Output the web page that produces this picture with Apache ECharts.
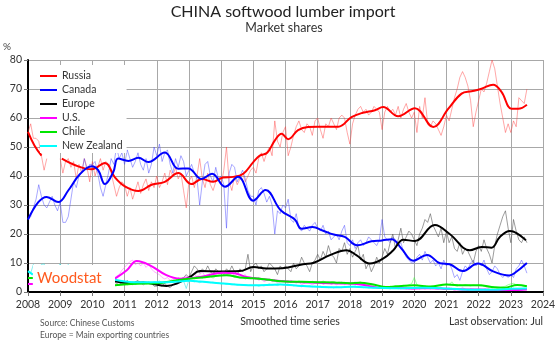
<!DOCTYPE html>
<html><head><meta charset="utf-8">
<script src="https://cdn.jsdelivr.net/npm/echarts@6/dist/echarts.min.js"></script>
<style>html,body{margin:0;padding:0;background:#fff}#c{width:560px;height:345px}</style>
</head><body><div id="c"></div>
<script>
const START_YEAR = 2008;
const X_MIN = 2008, X_MAX = 2024, Y_MIN = 0, Y_MAX = 80;
const seriesNames = ['Russia', 'Canada', 'Europe', 'U.S.', 'Chile', 'New Zealand'];

// Raw monthly market shares (%), Jan 2008 .. Jul 2023
const russiaRaw = [
 55,58,53,53,52,47,42,46,null,null,null,null,
 46,41,45,46,43,45,39,44,41,46,43,38,
 45,40,43,46,42,45,44,41,37,33,36,38,
 37,33,36,32,35,38,34,37,39,35,38,36,
 40,36,38,41,37,42,40,43,39,41,35,29,
 38,40,36,40,46,39,36,41,37,35,38,39,
 37,42,50,38,35,40,37,39,41,38,40,42,
 43,41,46,48,45,48,50,47,59,52,50,55,
 57,47,50,54,57,59,56,55,58,57,54,59,
 60,56,53,58,57,60,58,56,60,61,60,55,
 51,58,61,63,64,62,63,61,62,64,63,62,
 56,62,64,62,63,61,64,60,63,65,62,60,
 62,55,64,60,67,58,57,59,58,56,54,57,
 61,59,63,67,70,74,76,74,71,66,57,62,
 66,70,69,72,76,80,77,71,65,60,55,58,
 55,59,57,67,66,65,70];
const canadaRaw = [
 25,26,29,32,37,33,30,29,31,33,30,28,
 31,24,24,26,32,38,36,40,41,46,42,44,
 44,45,41,36,33,37,41,46,44,50,46,48,
 44,49,46,43,45,48,44,42,46,41,44,50,
 47,51,45,48,49,44,41,46,43,47,45,40,
 42,44,41,39,30,38,44,45,40,38,43,39,
 40,37,22,41,44,43,38,40,42,39,35,33,
 33,30,35,36,34,31,33,30,20,28,27,30,
 29,32,25,24,27,22,21,23,22,21,23,24,
 22,21,23,20,21,18,19,20,18,21,23,17,
 16,18,15,17,18,16,17,19,18,17,16,18,
 25,19,18,17,19,18,16,17,14,12,11,10,
 10,12,13,11,14,12,10,11,9,10,8,11,
 9,10,8,5,6,4,7,9,8,10,11,9,
 10,9,11,8,6,7,9,8,6,5,6,5,
 6,5,8,9,11,9,6.5];
const europeRaw = [
 null,null,null,null,null,null,null,null,null,null,null,null,
 null,null,null,null,null,null,null,null,null,null,null,null,
 null,null,null,null,null,null,null,null,3.5,3,2.5,3.5,
 3,4,3,2.5,3.5,4,3,2.5,3,3.5,3,2,
 2,2.5,2,3,2,1.5,2.5,3,4,4.5,5,6,
 5,7,9,8,6.5,8,7,9,7,6,8,7,
 7,6,8,7,9,7,6,8,7,8,13,7,
 9,10,8,9,7,8,10,9,8,6,9,8,
 9,8,7,10,8,9,12,10,9,7,10,11,
 13,11,14,12,16,13,12,10,15,14,17,13,
 15,12,14,16,11,13,8,10,7,9,12,10,
 12,15,13,17,20,15,18,22,17,19,21,20,
 18,16,20,22,25,24,27,23,21,19,22,17,
 21,17,19,15,14,17,13,15,14,12,10,14,
 16,14,18,15,13,10,16,20,23,26,28,22,
 17,25,21,18,17,19,17];
const usRaw = [
 2.8,2.7,null,null,null,null,null,null,null,null,null,null,
 null,null,null,null,null,null,null,null,null,null,null,null,
 null,null,null,null,null,null,null,null,4.5,5.5,6,7.5,
 8.5,9.5,10.5,11,9.5,10,9,10,8.5,9.5,8,7,
 6.5,6,5,4.5,5,4,4.5,4,5,4.5,5,5.5,
 5,5.5,6.5,5,6,7,5.5,6,6.5,7,6,5.5,
 6.5,7,6,6.5,7,5.5,6,5,5.5,6,4.5,5,
 4.5,5,4,4.5,3.5,4,4.5,3.5,4,3,3.5,4,
 3.5,3,4,3.5,3,3.5,2.5,3,3.5,3,2.5,3,
 3,3.5,2.5,3,3.5,2.5,3,2.5,3,3.5,2.5,3,
 2.5,3,3.5,2.5,3,2.5,2,2.5,3,2,1.5,2,
 1.5,2,1.5,1,1.5,2,1.5,1,1.5,1,1.5,1,
 1,1.5,1,1.5,1,1.5,1,1.5,1,1,1.5,1,
 1,1.5,1,0.5,1,1,1.5,1,0.5,1,1,0.5,
 1,0.5,1,1.5,1,0.5,1,0.5,0.5,1,0.5,0.5,
 0.5,1,0.5,1,0.5,1,1];
const chileRaw = [
 4.8,5,null,null,null,null,null,null,null,null,null,null,
 null,null,null,null,null,null,null,null,null,null,null,null,
 null,null,null,null,null,null,null,null,2,2.5,2.3,2.8,
 3,2.5,2.8,3.2,2.6,3,2.8,3.1,2.7,3,2.9,3.2,
 3,3.3,2.8,3.5,3.2,3.8,3.5,4,4.2,3.8,4.5,4.2,
 4.8,5,4.5,5.5,5.2,4.8,5.5,5,5.3,4.8,5.5,5.8,
 5.5,6,5.8,6.2,5.5,5,5.3,4.8,5,4.5,4.8,5,
 4.8,4.5,5,4.2,4.5,4,4.3,3.8,4.2,3.5,4,3.8,
 3.5,3.8,3.2,3.6,3.4,3.8,3.5,3.2,3.6,3.3,3.7,3.4,
 3.5,3.2,3.8,3.4,3,3.5,3.6,3.2,3.4,3,3.3,3.1,
 3,3.3,2.8,3.2,3.5,3,2.8,2.5,2.2,2,1.8,1.5,
 1.6,1.8,1.5,2,1.8,2.2,2,1.8,2.3,2.1,2.5,2.8,
 5,2.5,2,1.8,2.2,2,1.6,1.8,2,2.3,2.1,2.5,
 2.8,2.5,3.5,2.3,2,2.5,2.2,2.6,2.3,2.1,2.4,2.2,
 2.3,2.5,2,1.8,1.5,1.3,1.5,1.2,1.5,1.8,2,2.5,
 2.8,3,2.5,2.3,2.2,2,1.8];
const nzRaw = [
 7,6.5,9.5,7,8,9.5,9.7,7,8,7.5,8,8.5,
 9.7,8,7,9.5,8,7,6,7,8,6,7,6.5,
 6,5,5.5,4.5,5,4,4.5,4,3.8,4,3.6,3.3,
 3.2,3.5,3,3.4,2.8,3.2,3,3.5,2.9,3.3,3.1,3.6,
 3.4,3.8,3.2,3.5,3.3,3.6,3.2,3.9,3.5,4.2,3.8,1.2,
 4.2,3.8,3.5,3.8,3.2,3.6,3.3,3.5,3.2,3.4,3,3.1,
 2.8,3,2.6,2.9,2.5,2.7,2.4,2.6,2.3,2.5,2.2,2.4,
 2.2,2.4,2,2.3,2.1,2.5,2.8,2.4,2.6,2.2,2.7,2.5,
 2.4,2.2,2.6,2.1,2.3,2,1.8,2.1,1.9,2.2,1.8,2,
 1.8,2,1.6,1.9,1.5,1.7,1.4,1.8,1.6,1.5,1.7,1.9,
 2,1.8,2.1,1.6,1.9,1.5,1.7,1.4,1.6,1.3,1.5,1.4,
 1.4,1.6,1.3,1.5,1.2,1.4,1.1,1.3,1.2,1.4,1.1,1.3,
 1.2,1.5,1.3,1.6,1.4,1.8,1.5,1.3,1.6,1.2,1.4,1.1,
 1.2,1,1.3,0.9,1.1,0.8,1,0.9,0.7,1,0.8,0.9,
 0.8,0.7,0.9,0.6,0.8,0.7,0.9,0.8,1,0.9,1.1,1,
 1.1,1.3,1,1.2,1.1,1.3,1.2];

// Smoothed series: [year, share %], null = gap
const russiaSmooth = [[2008.0,55.2],[2008.2,50.5],[2008.42,47],[2008.7,null],[2009.05,46],[2009.56,43.3],[2009.98,42.3],[2010.39,44.5],[2010.7,39.5],[2011.01,36.4],[2011.43,34.8],[2011.84,37],[2012.25,38],[2012.67,41],[2013.08,37.2],[2013.4,39],[2013.75,38],[2014.06,39.5],[2014.38,39.7],[2014.69,40.8],[2015.0,44.8],[2015.2,47],[2015.43,48],[2015.67,52.3],[2015.88,54.6],[2016.08,52.7],[2016.39,55.8],[2016.7,56.9],[2017.0,57],[2017.64,57],[2018.05,60.3],[2018.4,61.8],[2018.78,62.7],[2019.03,63.8],[2019.5,60.6],[2020.02,63.4],[2020.59,56.9],[2021.06,63.2],[2021.47,68.4],[2021.78,69.2],[2022.09,70.1],[2022.45,71.5],[2022.71,69],[2023.02,63.2],[2023.23,63.2],[2023.5,64.6]];
const canadaSmooth = [[2008.0,25],[2008.32,31],[2008.58,32.8],[2008.94,31],[2009.25,35],[2009.61,40.6],[2009.98,43.4],[2010.18,42],[2010.39,37.2],[2010.65,41.4],[2010.8,46],[2011.12,45.2],[2011.43,46.3],[2011.74,44.8],[2012.25,48.1],[2012.67,42.5],[2012.98,42.6],[2013.39,39],[2013.72,40.8],[2014.12,36.3],[2014.53,39.7],[2015.0,31.5],[2015.38,35.2],[2015.85,28.2],[2016.29,25],[2016.5,21.8],[2016.84,22.4],[2017.15,21.2],[2017.5,19.8],[2017.84,19],[2018.23,16.1],[2018.67,17.5],[2019.0,17.8],[2019.3,18.2],[2019.6,15],[2019.97,10.8],[2020.4,12.8],[2020.8,9.9],[2021.1,9.6],[2021.5,7.2],[2021.98,9.8],[2022.45,7.1],[2022.95,5.7],[2023.15,6.8],[2023.5,10]];
const europeSmooth = [[2010.7,3.7],[2011.07,3.1],[2011.58,3.3],[2012.3,2.1],[2012.62,2.9],[2013.03,5.2],[2013.34,7.2],[2013.96,7.1],[2014.58,7.2],[2015.0,8.6],[2015.41,8.1],[2015.9,8.2],[2016.55,9.6],[2016.86,10],[2017.38,12.7],[2017.9,14.4],[2018.2,12.7],[2018.62,9.8],[2019.03,11.5],[2019.35,14.4],[2019.66,18],[2020.02,17.6],[2020.64,23.1],[2021.1,20],[2021.73,14.4],[2022.09,15.5],[2022.4,15.3],[2022.66,19],[2022.97,21],[2023.47,17.8]];
const usSmooth = [[2008.0,2.8],[2008.15,2.8],[2008.5,null],[2010.7,4.6],[2011.07,7.5],[2011.38,10.7],[2011.79,9.2],[2012.3,5.8],[2012.72,4.6],[2013.34,5.2],[2014.06,6.6],[2014.4,6.5],[2014.79,5.2],[2015.41,4.3],[2015.83,3.8],[2016.5,3.4],[2017.0,3.2],[2017.5,3],[2018.0,2.9],[2018.4,2.5],[2018.9,1.5],[2019.5,1.4],[2020.0,1.2],[2020.5,1.3],[2021.0,1.1],[2021.5,0.9],[2022.0,0.9],[2022.5,0.7],[2023.0,0.7],[2023.5,0.9]];
const chileSmooth = [[2008.0,4.8],[2008.15,4.8],[2008.5,null],[2010.7,2.3],[2011.2,2.8],[2012.0,3],[2012.5,3.8],[2013.0,4.6],[2013.5,5.1],[2014.17,5.8],[2014.58,5],[2015.0,4.7],[2015.4,4.3],[2016.0,3.6],[2016.5,3.5],[2017.0,3.4],[2017.5,3.3],[2018.0,3],[2018.3,3.2],[2018.8,2.4],[2019.1,1.7],[2019.6,2.1],[2020.0,2.3],[2020.5,1.9],[2021.0,2.6],[2021.5,2.3],[2022.0,2.3],[2022.5,1.6],[2022.8,1.5],[2023.2,2.4],[2023.5,2]];
const nzSmooth = [[2008.0,7.2],[2008.15,6],[2008.5,null],[2010.7,4.2],[2011.27,3.4],[2012.3,3.4],[2013.03,3.9],[2013.34,3.6],[2014.06,2.9],[2015.0,2.3],[2015.83,2.6],[2016.5,2.1],[2017.0,1.8],[2017.6,1.6],[2018.1,1.8],[2018.7,1.5],[2019.5,1.3],[2020.3,1.5],[2020.8,1.3],[2021.5,0.9],[2022.0,0.8],[2022.6,0.8],[2023.0,1.1],[2023.5,1.2]];

const smoothColors = ['#ff0000', '#0000ff', '#000000', '#ff00ff', '#00e600', '#00ffff'];
const rawColors = ['rgba(255,60,60,0.45)', 'rgba(60,60,255,0.45)', 'rgba(90,90,90,0.6)', 'rgba(255,80,255,0.45)', 'rgba(60,255,60,0.5)', 'rgba(60,230,230,0.6)'];
const raws = [russiaRaw, canadaRaw, europeRaw, usRaw, chileRaw, nzRaw];
const smooths = [russiaSmooth, canadaSmooth, europeSmooth, usSmooth, chileSmooth, nzSmooth];

function monthly(arr) { return arr.map((v, i) => [START_YEAR + i / 12, v]); }

const FONT = 'Lato';
const series = [];
raws.forEach((r, k) => series.push({
  name: seriesNames[k] + ' raw', type: 'line', data: monthly(r), showSymbol: false, silent: true,
  connectNulls: false, lineStyle: { width: 1, color: rawColors[k] }, itemStyle: { color: rawColors[k] }, z: 2
}));
smooths.forEach((s, k) => series.push({
  name: seriesNames[k], type: 'line', data: s, showSymbol: false, silent: true, smooth: 0.4,
  connectNulls: false, lineStyle: { width: 2, color: smoothColors[k] }, itemStyle: { color: smoothColors[k] }, z: 3
}));

const chart = echarts.init(document.getElementById('c'), null, { renderer: 'canvas' });
chart.setOption({
  animation: false,
  backgroundColor: '#fff',
  grid: { left: 28, right: 17, top: 60, bottom: 53, containLabel: false },
  xAxis: {
    type: 'value', min: X_MIN, max: X_MAX, interval: 1,
    axisLine: { lineStyle: { color: '#000', width: 2 } },
    axisTick: { show: true, length: 4, lineStyle: { color: '#777' } },
    axisLabel: { fontFamily: FONT, fontSize: 10.5, color: '#333', margin: 7, formatter: v => String(v) },
    splitLine: { show: true, lineStyle: { color: '#a8a8a8', width: 1 } }
  },
  yAxis: {
    type: 'value', min: Y_MIN, max: Y_MAX, interval: 10,
    axisLine: { show: true, lineStyle: { color: '#000', width: 2 } },
    axisTick: { show: true, length: 4, lineStyle: { color: '#777' } },
    axisLabel: { fontFamily: FONT, fontSize: 10.5, color: '#333', margin: 6 },
    splitLine: { show: true, lineStyle: { color: '#a8a8a8', width: 1 } }
  },
  legend: {
    data: seriesNames, orient: 'vertical', left: 40, top: 65, padding: [4, 4, 0, 0],
    itemWidth: 17, itemHeight: 2, itemGap: 0, icon: 'rect', selectedMode: false,
    backgroundColor: '#fff',
    textStyle: { fontFamily: FONT, fontSize: 10.5, color: '#333', lineHeight: 14 }
  },
  graphic: [
    { type: 'text', x: 283, y: 12, z: 100, style: { text: 'CHINA softwood lumber import', fontFamily: FONT, fontSize: 16, fill: '#222', align: 'center', verticalAlign: 'middle' } },
    { type: 'text', x: 284, y: 28, z: 100, style: { text: 'Market shares', fontFamily: FONT, fontSize: 12.5, fill: '#333', align: 'center', verticalAlign: 'middle' } },
    { type: 'text', x: 3, y: 47, z: 100, style: { text: '%', fontFamily: FONT, fontSize: 10, fill: '#444', verticalAlign: 'middle' } },
    { type: 'rect', z: 100, shape: { x: 33, y: 265, width: 82, height: 25 }, style: { fill: '#fff' } },
    { type: 'text', x: 37, y: 278, z: 101, style: { text: 'Woodstat', fontFamily: FONT, fontSize: 15, fill: '#ff5a1e', verticalAlign: 'middle' } },
    { type: 'text', x: 40, y: 323, z: 100, style: { text: 'Source: Chinese Customs', fontFamily: FONT, fontSize: 8.5, fill: '#555', verticalAlign: 'middle' } },
    { type: 'text', x: 40, y: 335, z: 100, style: { text: 'Europe = Main exporting countries', fontFamily: FONT, fontSize: 8.5, fill: '#555', verticalAlign: 'middle' } },
    { type: 'text', x: 290, y: 322, z: 100, style: { text: 'Smoothed time series', fontFamily: FONT, fontSize: 10.5, fill: '#333', align: 'center', verticalAlign: 'middle' } },
    { type: 'text', x: 543, y: 322, z: 100, style: { text: 'Last observation: Jul', fontFamily: FONT, fontSize: 10.5, fill: '#333', align: 'right', verticalAlign: 'middle' } }
  ],
  series: series
});
</script>
</body></html>
